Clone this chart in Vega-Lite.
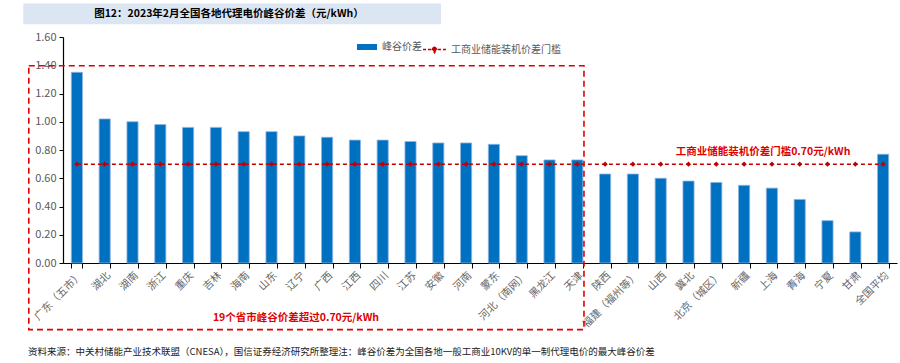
{
  "$schema": "https://vega.github.io/schema/vega-lite/v6.json",
  "width": 834,
  "height": 226,
  "autosize": {"type": "none"},
  "padding": {"left": 63, "top": 37, "right": 3, "bottom": 100},
  "background": "white",
  "config": {
    "view": {"stroke": null},
    "font": "Noto Sans CJK SC",
    "axis": {"labelFont": "Noto Sans CJK SC", "labelColor": "#595959", "labelFontSize": 11, "domainColor": "#000000", "tickColor": "#000000", "grid": false},
    "axisY": {"labelOverlap": false, "labelSeparation": 0}
  },
  "resolve": {"scale": {"x": "independent"}, "axis": {"x": "independent"}},
  "layer": [
    {
      "data": {"values": [
        {"cat": "广东（五市）", "v": 1.35},
        {"cat": "湖北", "v": 1.02},
        {"cat": "湖南", "v": 1.00},
        {"cat": "浙江", "v": 0.98},
        {"cat": "重庆", "v": 0.96},
        {"cat": "吉林", "v": 0.96},
        {"cat": "海南", "v": 0.93},
        {"cat": "山东", "v": 0.93},
        {"cat": "辽宁", "v": 0.90},
        {"cat": "广西", "v": 0.89},
        {"cat": "江西", "v": 0.87},
        {"cat": "四川", "v": 0.87},
        {"cat": "江苏", "v": 0.86},
        {"cat": "安徽", "v": 0.85},
        {"cat": "河南", "v": 0.85},
        {"cat": "蒙东", "v": 0.84},
        {"cat": "河北（南网）", "v": 0.76},
        {"cat": "黑龙江", "v": 0.73},
        {"cat": "天津", "v": 0.73},
        {"cat": "陕西", "v": 0.63},
        {"cat": "福建（福州等）", "v": 0.63},
        {"cat": "山西", "v": 0.60},
        {"cat": "冀北", "v": 0.58},
        {"cat": "北京（城区）", "v": 0.57},
        {"cat": "新疆", "v": 0.55},
        {"cat": "上海", "v": 0.53},
        {"cat": "青海", "v": 0.45},
        {"cat": "宁夏", "v": 0.30},
        {"cat": "甘肃", "v": 0.22},
        {"cat": "全国平均", "v": 0.77}
      ]},
      "layer": [
        {
          "mark": {"type": "bar", "stroke": "#8DB4E2", "strokeWidth": 0.8},
          "encoding": {
            "x": {"field": "cat", "type": "nominal", "sort": null,
              "scale": {"paddingInner": 0.6, "paddingOuter": 0.3},
              "axis": {"title": null, "labelAngle": -45, "tickBand": "extent", "tickSize": 5, "labelPadding": 2, "domainWidth": 1.2, "labelFontSize": 10.5, "labelColor": "#666666"}},
            "y": {"field": "v", "type": "quantitative",
              "scale": {"domain": [0, 1.6], "nice": false, "zero": false},
              "axis": {"title": null, "tickCount": 8, "format": ".2f", "tickSize": 4, "domainWidth": 1.2, "labelPadding": 3, "labelOverlap": false}},
            "fill": {"datum": "峰谷价差", "type": "nominal",
              "scale": {"range": ["#0070C0"]},
              "legend": {"orient": "none", "legendX": 294, "legendY": 0, "title": null,
                "symbolType": "M-1,-0.3H1V0.3H-1Z", "symbolSize": 400, "symbolStrokeWidth": 0,
                "labelFontSize": 10, "labelColor": "#595959", "labelFont": "Noto Sans CJK SC", "labelOffset": 5}}
          }
        },
        {
          "transform": [{"calculate": "0.7", "as": "t"}],
          "mark": {"type": "line", "strokeWidth": 1.5, "strokeDash": [4, 3]},
          "encoding": {
            "x": {"field": "cat", "type": "nominal", "sort": null},
            "y": {"field": "t", "type": "quantitative", "scale": {"domain": [0, 1.6], "nice": false, "zero": false}},
            "stroke": {"datum": "工商业储能装机价差门槛", "type": "nominal",
              "scale": {"range": ["#C00000"]},
              "legend": {"orient": "none", "legendX": 359, "legendY": 0, "title": null,
                "symbolType": "M-1,0H1M-0.2,0L0,-0.28L0.2,0L0,0.28Z", "symbolSize": 529, "symbolStrokeWidth": 1.5,
                "symbolDash": [3, 2], "symbolFillColor": "#C00000",
                "labelFontSize": 10, "labelColor": "#595959", "labelFont": "Noto Sans CJK SC", "labelOffset": 4}}
          }
        },
        {
          "transform": [{"calculate": "0.7", "as": "t"}],
          "mark": {"type": "point", "shape": "diamond", "filled": true, "size": 28, "color": "#C00000", "opacity": 1},
          "encoding": {
            "x": {"field": "cat", "type": "nominal", "sort": null},
            "y": {"field": "t", "type": "quantitative", "scale": {"domain": [0, 1.6], "nice": false, "zero": false}}
          }
        }
      ]
    },
    {
      "data": {"values": [
        {"kind": "box", "u1": -1.43, "u2": 13.6, "y1": 1.69, "y2": 1.837}
      ]},
      "mark": {"type": "rect", "fill": "#DCE6F2"},
      "encoding": {
        "x": {"field": "u1", "type": "quantitative", "scale": {"domain": [0, 30], "nice": false, "zero": false}, "axis": null},
        "x2": {"field": "u2"},
        "y": {"field": "y1", "type": "quantitative", "scale": {"domain": [0, 1.6], "nice": false, "zero": false}},
        "y2": {"field": "y2"}
      }
    },
    {
      "data": {"values": [
        {"kind": "frame", "u1": -1.23, "u2": 18.74, "y1": -0.472, "y2": 1.396}
      ]},
      "mark": {"type": "rect", "filled": false, "stroke": "#E00000", "strokeWidth": 1.6, "strokeDash": [6, 4]},
      "encoding": {
        "x": {"field": "u1", "type": "quantitative", "scale": {"domain": [0, 30], "nice": false, "zero": false}, "axis": null},
        "x2": {"field": "u2"},
        "y": {"field": "y1", "type": "quantitative", "scale": {"domain": [0, 1.6], "nice": false, "zero": false}},
        "y2": {"field": "y2"}
      }
    },
    {
      "data": {"values": [
        {"u": 5.97, "y": 1.761, "label": "图12：2023年2月全国各地代理电价峰谷价差（元/kWh）", "kind": "title"},
        {"u": 8.38, "y": -0.389, "label": "19个省市峰谷价差超过0.70元/kWh", "kind": "red"},
        {"u": 25.18, "y": 0.784, "label": "工商业储能装机价差门槛0.70元/kWh", "kind": "red"}
      ]},
      "mark": {"type": "text", "fontWeight": "bold", "fontSize": 10.5, "align": "center", "baseline": "middle", "font": "Noto Sans CJK SC"},
      "encoding": {
        "x": {"field": "u", "type": "quantitative", "scale": {"domain": [0, 30], "nice": false, "zero": false}, "axis": null},
        "y": {"field": "y", "type": "quantitative", "scale": {"domain": [0, 1.6], "nice": false, "zero": false}},
        "text": {"field": "label"},
        "color": {"field": "kind", "type": "nominal", "scale": {"domain": ["title", "red"], "range": ["#000000", "#E00000"]}, "legend": null}
      }
    },
    {
      "data": {"values": [
        {"u": -1.26, "y": -0.628, "label": "资料来源：中关村储能产业技术联盟（CNESA），国信证券经济研究所整理注：峰谷价差为全国各地一般工商业10KV的单一制代理电价的最大峰谷价差"}
      ]},
      "mark": {"type": "text", "fontSize": 9.5, "align": "left", "baseline": "middle", "color": "#222222", "font": "Noto Sans CJK SC"},
      "encoding": {
        "x": {"field": "u", "type": "quantitative", "scale": {"domain": [0, 30], "nice": false, "zero": false}, "axis": null},
        "y": {"field": "y", "type": "quantitative", "scale": {"domain": [0, 1.6], "nice": false, "zero": false}},
        "text": {"field": "label"}
      }
    }
  ]
}
